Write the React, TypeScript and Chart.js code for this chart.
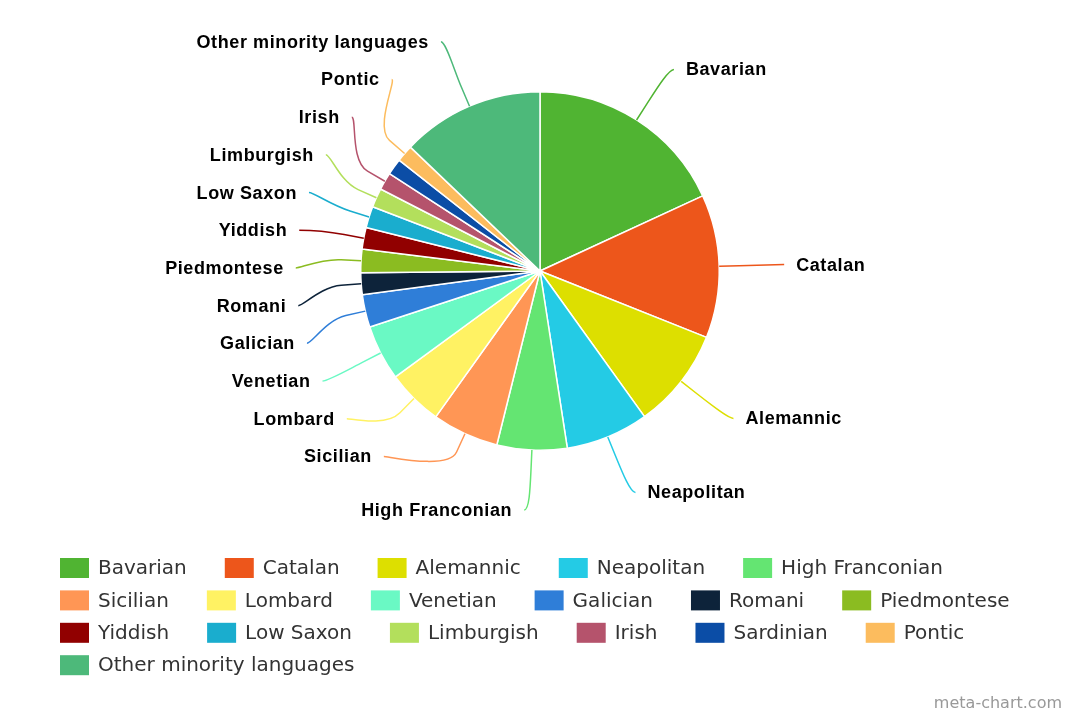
import React, { useEffect, useRef } from 'react';
import { Chart, registerables } from 'chart.js';

Chart.register(...registerables);

// ---- data ----
const languages: string[] = [
  'Bavarian', 'Catalan', 'Alemannic', 'Neapolitan', 'High Franconian',
  'Sicilian', 'Lombard', 'Venetian', 'Galician', 'Romani', 'Piedmontese',
  'Yiddish', 'Low Saxon', 'Limburgish', 'Irish', 'Sardinian', 'Pontic',
  'Other minority languages',
];

const shares: number[] = [
  18.11, 12.92, 9.06, 7.47, 6.31,
  6.0, 5.06, 5.0, 2.94, 1.97, 2.11,
  1.94, 1.94, 1.72, 1.58, 1.47, 1.53,
  12.86,
];

const colors: string[] = [
  '#50B432', '#ED561B', '#DDDF00', '#24CBE5', '#64E572',
  '#FF9655', '#FFF263', '#6AF9C4', '#2F7ED8', '#0D233A', '#8BBC21',
  '#910000', '#1AADCE', '#B3DF5C', '#B5536C', '#0B4DA6', '#FCBC5E',
  '#4DB97A',
];

const LABEL_FONT = 'bold 18px "Liberation Sans", Arial, sans-serif';
const LEGEND_FONT = '20px "DejaVu Sans", Verdana, sans-serif';

type Pt = { i: number; cos: number; sin: number; left: boolean; natY: number };

// Slot-based label placement (classic pie data-label layout)
function placeSide(pts: Pt[], slotTop: number, slotBottom: number, slotH: number) {
  const slots: (number | null)[] = [];
  for (let p = slotTop; p <= slotBottom + 0.001; p += slotH) slots.push(p);
  const S = slots.length;
  let list = pts.slice().sort((a, b) => a.natY - b.natY);
  if (list.length > S) {
    const ranked = list.slice().sort((a, b) => shares[b.i] - shares[a.i]);
    const keep = new Set(ranked.slice(0, S).map((p) => p.i));
    list = list.filter((p) => keep.has(p.i));
  }
  const n = list.length;
  const used: { idx: number; y: number }[] = [];
  list.forEach((p, j) => {
    let best = 1e9, idx = 0;
    for (let s = 0; s < S; s++) {
      const d = Math.abs((slots[s] ?? 0) - p.natY);
      if (d < best) { best = d; idx = s; }
    }
    if (idx < j && slots[j] !== null) {
      idx = j;
    } else if (S < n - j + idx && slots[j] !== null) {
      idx = S - n + j;
      while (slots[idx] === null) idx++;
    } else {
      while (slots[idx] === null) idx++;
    }
    used.push({ idx, y: slots[idx] as number });
    slots[idx] = null;
  });
  used.sort((a, b) => a.y - b.y);
  return list.map((p, j) => {
    const u = used[j];
    let y = u.y;
    if ((p.natY > y && slots[u.idx + 1] !== null) || (p.natY < y && slots[u.idx - 1] !== null)) {
      y = p.natY;
    }
    const edge = u.idx === 0 || u.idx === S - 1;
    return { p, y, yForX: edge ? p.natY : y };
  });
}

const outsideLabels = {
  id: 'outsideLabels',
  afterDatasetsDraw(chart: any) {
    const meta = chart.getDatasetMeta(0);
    const arcs = meta.data;
    if (!arcs.length) return;
    const ctx: CanvasRenderingContext2D = chart.ctx;
    const first = arcs[0].getProps(['x', 'y', 'outerRadius'], true);
    const cx = first.x, cy = first.y, r = first.outerRadius;
    const dist = 60;
    const R = r + dist;
    const slotH = 37.7;
    const breakOff = 20;

    const info: Pt[] = arcs.map((arc: any, i: number) => {
      const p = arc.getProps(['startAngle', 'endAngle'], true);
      const mid = (p.startAngle + p.endAngle) / 2;
      const cos = Math.cos(mid), sin = Math.sin(mid);
      return { i, cos, sin, left: cos < 0, natY: cy + sin * R };
    });

    [true, false].forEach((isLeft) => {
      const side = info.filter((d) => d.left === isLeft);
      const placed = placeSide(side, cy - r - 50, cy + R, slotH);
      placed.forEach(({ p: d, y, yForX }) => {
        const dx = Math.sqrt(Math.max(0, R * R - (yForX - cy) * (yForX - cy)));
        const x = isLeft ? cx - dx : cx + dx;
        const tx = cx + d.cos * r, ty = cy + d.sin * r;
        const bxp = cx + d.cos * (r + breakOff), byp = cy + d.sin * (r + breakOff);
        ctx.save();
        ctx.strokeStyle = colors[d.i];
        ctx.lineWidth = 1.5;
        ctx.beginPath();
        ctx.moveTo(x + (isLeft ? -5 : 5), y);
        ctx.bezierCurveTo(x, y, 2 * bxp - tx, 2 * byp - ty, bxp, byp);
        ctx.lineTo(tx, ty);
        ctx.stroke();
        ctx.font = LABEL_FONT;
        (ctx as any).letterSpacing = '0.6px';
        ctx.fillStyle = '#000000';
        ctx.textBaseline = 'middle';
        ctx.textAlign = isLeft ? 'right' : 'left';
        ctx.fillText(languages[d.i], isLeft ? x - 17 : x + 17, y + 1);
        ctx.restore();
      });
    });
  },
};

const customLegend = {
  id: 'customLegend',
  afterDraw(chart: any) {
    const ctx: CanvasRenderingContext2D = chart.ctx;
    const startX = 60, maxRight = 1040, rowY0 = 568, rowH = 32.4;
    const boxW = 29, boxH = 20, gapText = 9, itemGap = 38;
    ctx.save();
    ctx.font = LEGEND_FONT;
    ctx.textBaseline = 'middle';
    ctx.textAlign = 'left';
    let x = startX, row = 0;
    languages.forEach((name, i) => {
      const w = boxW + gapText + ctx.measureText(name).width;
      if (x > startX && x + w > maxRight) { row++; x = startX; }
      const yc = rowY0 + row * rowH;
      ctx.fillStyle = colors[i];
      ctx.fillRect(x, yc - boxH / 2, boxW, boxH);
      ctx.fillStyle = '#333333';
      ctx.fillText(name, x + boxW + gapText, yc + 1);
      x += w + itemGap;
    });
    ctx.restore();
  },
};

const watermark = {
  id: 'watermark',
  afterDraw(chart: any) {
    const ctx: CanvasRenderingContext2D = chart.ctx;
    ctx.save();
    ctx.font = '16px "DejaVu Sans", Verdana, sans-serif';
    ctx.fillStyle = '#999999';
    ctx.textAlign = 'right';
    ctx.textBaseline = 'middle';
    ctx.fillText('meta-chart.com', 1062, 704);
    ctx.restore();
  },
};

export default function App() {
  const ref = useRef<HTMLCanvasElement>(null);
  useEffect(() => {
    const chart = new Chart(ref.current as HTMLCanvasElement, {
      type: 'pie',
      data: {
        labels: languages,
        datasets: [{
          data: shares,
          backgroundColor: colors,
          borderColor: '#ffffff',
          borderWidth: 1.5,
        }],
      },
      options: {
        responsive: false,
        animation: false,
        devicePixelRatio: 1,
        layout: { padding: { left: 360, right: 360, top: 91, bottom: 269 } },
        plugins: { legend: { display: false }, tooltip: { enabled: false } },
      },
      plugins: [outsideLabels, customLegend, watermark],
    } as any);
    return () => chart.destroy();
  }, []);
  return (
    <div style={{ position: 'fixed', left: 0, top: 0, width: 1080, height: 720, background: '#ffffff' }}>
      <canvas ref={ref} width={1080} height={720} style={{ display: 'block' }} />
    </div>
  );
}
